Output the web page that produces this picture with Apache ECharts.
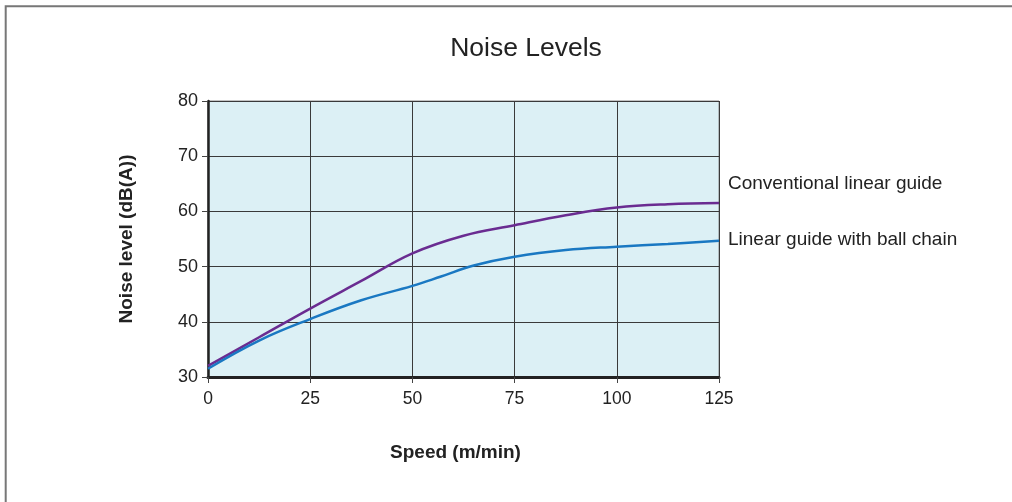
<!DOCTYPE html>
<html>
<head>
<meta charset="utf-8">
<script src="https://cdn.jsdelivr.net/npm/echarts@6/dist/echarts.min.js"></script>
<style>
html,body{margin:0;padding:0;background:#fff;}
#c{width:1012px;height:502px;}
</style>
</head>
<body>
<div id="c"></div>
<script>
const titleText = 'Noise Levels';
const xName = 'Speed (m/min)';
const yName = 'Noise level (dB(A))';
const seriesNames = ['Conventional linear guide', 'Linear guide with ball chain'];
const conventionalSpeed = [0, 12.5, 25, 37.5, 50, 62.5, 75, 87.5, 100, 112.5, 125];
const conventionalNoise = [32, 37.2, 42.4, 47.4, 52.4, 55.6, 57.5, 59.3, 60.7, 61.3, 61.5];
const ballChainSpeed = [0, 12.5, 25, 37.5, 50, 57, 65, 75, 87.5, 100, 112.5, 125];
const ballChainNoise = [31.5, 36.6, 40.5, 43.9, 46.5, 48.2, 50.2, 51.8, 53.0, 53.6, 54.1, 54.7];
const xMin = 0, xMax = 125, xStep = 25;
const yMin = 30, yMax = 80, yStep = 10;

const font = '"Liberation Sans", Arial, sans-serif';
const pair = (xs, ys) => xs.map((x, i) => [x, ys[i]]);

const chart = echarts.init(document.getElementById('c'), null, {renderer: 'canvas'});
chart.setOption({
  animation: false,
  backgroundColor: '#ffffff',
  graphic: [{
    type: 'rect', silent: true, z: 100,
    shape: {x: 5.7, y: 6.3, width: 1100, height: 600},
    style: {fill: 'none', stroke: '#777', lineWidth: 2}
  }, {
    type: 'text', silent: true, x: 526, y: 49,
    style: {text: titleText, fontFamily: font, fontSize: 26.5, fill: '#222',
      textAlign: 'center', textVerticalAlign: 'middle'}
  }],
  grid: {
    left: 208, right: 293, top: 101, bottom: 125,
    show: true, backgroundColor: '#dcf0f5', borderColor: '#888', borderWidth: 1
  },
  xAxis: {
    type: 'value', min: xMin, max: xMax, interval: xStep,
    name: xName, nameLocation: 'middle', nameGap: 66,
    nameTextStyle: {fontFamily: font, fontSize: 19, fontWeight: 'bold', color: '#222',
      padding: [0, 16, 0, 0]},
    axisLine: {show: true, lineStyle: {color: '#222', width: 3}},
    axisTick: {show: true, length: 6, lineStyle: {color: '#444', width: 1}},
    axisLabel: {fontFamily: font, fontSize: 17.5, color: '#222', margin: 13},
    splitLine: {show: true, lineStyle: {color: '#3a3a3a', width: 1}}
  },
  yAxis: {
    type: 'value', min: yMin, max: yMax, interval: yStep,
    name: yName, nameLocation: 'middle', nameGap: 72, nameRotate: 90,
    nameTextStyle: {fontFamily: font, fontSize: 19, fontWeight: 'bold', color: '#222'},
    axisLine: {show: true, lineStyle: {color: '#222', width: 2.5}},
    axisTick: {show: true, length: 6, lineStyle: {color: '#444', width: 1}},
    axisLabel: {fontFamily: font, fontSize: 18, color: '#222', margin: 10},
    splitLine: {show: true, lineStyle: {color: '#3a3a3a', width: 1}}
  },
  series: [{
    name: seriesNames[0], type: 'line', smooth: 0.4, showSymbol: false,
    data: pair(conventionalSpeed, conventionalNoise),
    lineStyle: {color: '#6a2c91', width: 2.5},
    itemStyle: {color: '#6a2c91'},
    endLabel: {show: true, formatter: seriesNames[0], distance: 9, offset: [0, -19],
      fontFamily: font, fontSize: 19, color: '#222'}
  }, {
    name: seriesNames[1], type: 'line', smooth: 0.4, showSymbol: false,
    data: pair(ballChainSpeed, ballChainNoise),
    lineStyle: {color: '#1a78c2', width: 2.5},
    itemStyle: {color: '#1a78c2'},
    endLabel: {show: true, formatter: seriesNames[1], distance: 9, offset: [0, -1],
      fontFamily: font, fontSize: 19, color: '#222'}
  }]
});
</script>
</body>
</html>
